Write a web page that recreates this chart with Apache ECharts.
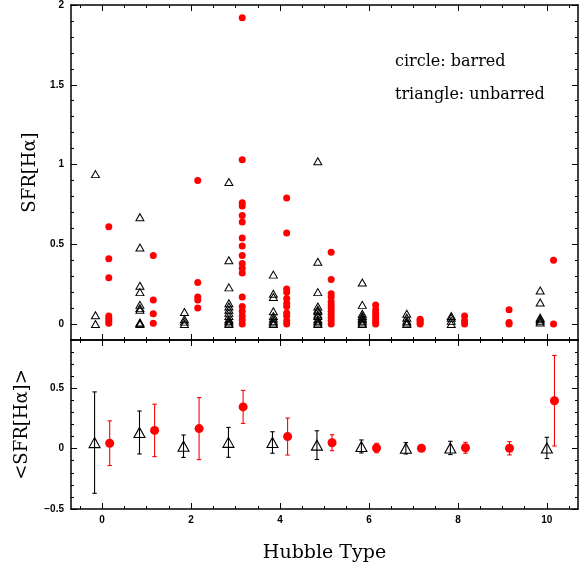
<!DOCTYPE html>
<html><head><meta charset="utf-8">
<script src="https://cdn.jsdelivr.net/npm/echarts@6/dist/echarts.min.js"></script>
<style>html,body{margin:0;padding:0;background:#fff}#c{width:585px;height:572px}</style>
</head><body><div id="c"></div>
<script>
// ---- data ----
const hubbleTypes = [0,1,2,3,4,5,6,7,8,9,10];
const unbarredSFR = [
  [0.94,0.055,0.0],
  [0.67,0.48,0.24,0.2,0.12,0.1,0.09,0.01,0.005,0.0],
  [0.075,0.03,0.015,0.0],
  [0.89,0.40,0.23,0.13,0.11,0.09,0.07,0.05,0.03,0.02,0.01,0.0],
  [0.31,0.19,0.17,0.08,0.05,0.035,0.02,0.01,0.0],
  [1.02,0.39,0.2,0.11,0.09,0.08,0.06,0.05,0.03,0.02,0.01,0.0],
  [0.26,0.12,0.065,0.05,0.04,0.03,0.02,0.01,0.0],
  [0.065,0.04,0.02,0.01,0.0],
  [0.05,0.04,0.02,0.0],
  [],
  [0.21,0.135,0.04,0.03,0.02,0.01]
];
const barredSFR = [
  [0.61,0.41,0.29,0.05,0.035,0.02,0.005],
  [0.43,0.15,0.065,0.005],
  [0.9,0.26,0.17,0.15,0.1],
  [1.92,1.03,0.76,0.74,0.68,0.64,0.54,0.49,0.43,0.38,0.35,0.32,0.17,0.11,0.08,0.05,0.025,0.0],
  [0.79,0.57,0.22,0.2,0.16,0.13,0.11,0.07,0.05,0.02,0.0],
  [0.45,0.28,0.19,0.17,0.14,0.12,0.1,0.08,0.06,0.04,0.02,0.0],
  [0.12,0.09,0.07,0.05,0.03,0.015,0.0],
  [0.03,0.02,0.01,0.0],
  [0.05,0.02,0.0],
  [0.09,0.01,0.0],
  [0.4,0.0]
];
const unbarredMeanX = [-0.17,0.84,1.83,2.84,3.83,4.83,5.83,6.83,7.83,10.0];
const unbarredMean  = [0.05,0.134,0.02,0.052,0.051,0.029,0.018,0.003,0.006,0.006];
const unbarredErr   = [0.42,0.178,0.093,0.124,0.089,0.119,0.054,0.047,0.055,0.088];
const barredMeanX = [0.17,1.18,2.18,3.17,4.17,5.17,6.17,7.18,8.17,9.16,10.17];
const barredMean  = [0.045,0.151,0.166,0.346,0.1,0.049,0.005,0.003,0.007,0.003,0.397];
const barredErr   = [0.185,0.217,0.257,0.137,0.153,0.066,0.039,0.02,0.045,0.055,0.375];

const xMajorTicks = [0,2,4,6,8,10];
const topYMajorTicks = [0,0.5,1,1.5,2];
const bottomYMajorTicks = [-0.5,0,0.5];
const xTitle = 'Hubble Type';
const topYTitle = 'SFR[H\u03b1]';
const bottomYTitle = '<SFR[H\u03b1]>';
const legendLines = ['circle: barred','triangle: unbarred'];

// ---- helpers ----
function steps(a, b, s, exclude) {
  const out = [];
  for (let i = Math.round(a / s); i <= Math.round(b / s); i++) {
    const v = +(i * s).toFixed(3);
    if (!exclude.some(e => Math.abs(e - v) < 1e-6)) out.push(v);
  }
  return out;
}
const xMinor = steps(-0.5, 10.5, 0.5, xMajorTicks);
const topYMinor = steps(-0.1, 2.0, 0.1, topYMajorTicks);
const botYMinor = steps(-0.5, 0.9, 0.1, bottomYMajorTicks);

const lab = {fontFamily:'Liberation Sans', fontWeight:'bold', fontSize:10, color:'#000'};
const fmt = v => (v < 0 ? '\u2212' + Math.abs(v) : String(v));

function xAx(grid, pos, ticks, len, showLine, showLabel, extra) {
  return Object.assign({
    type:'value', gridIndex:grid, position:pos, min:-0.7, max:10.7,
    axisLine:{show:showLine, onZero:false, lineStyle:{color:'#000', width:1.5}},
    axisTick:{show:true, inside:true, length:len, customValues:ticks, lineStyle:{color:'#000', width:1}},
    axisLabel:{show:showLabel, customValues:ticks, margin:6, formatter:fmt, ...lab},
    splitLine:{show:false}
  }, extra || {});
}
function yAx(grid, pos, min, max, ticks, len, showLine, showLabel, extra) {
  return Object.assign({
    type:'value', gridIndex:grid, position:pos, min:min, max:max,
    axisLine:{show:showLine, onZero:false, lineStyle:{color:'#000', width:1.5}},
    axisTick:{show:true, inside:true, length:len, customValues:ticks, lineStyle:{color:'#000', width:1}},
    axisLabel:{show:showLabel, customValues:ticks, margin:7, formatter:fmt, ...lab},
    splitLine:{show:false}
  }, extra || {});
}
const nameStyle = {fontFamily:'DejaVu Serif', fontSize:18, color:'#000'};

const xAxes = [
  xAx(0,'bottom',xMajorTicks,6,true,false),
  xAx(0,'bottom',xMinor,3,false,false),
  xAx(0,'top',xMajorTicks,6,true,false),
  xAx(0,'top',xMinor,3,false,false),
  xAx(1,'bottom',xMajorTicks,6,true,true,{name:xTitle,nameLocation:'middle',nameGap:35,nameTextStyle:{...nameStyle,fontSize:19}}),
  xAx(1,'bottom',xMinor,3,false,false),
  xAx(1,'top',xMajorTicks,6,true,false),
  xAx(1,'top',xMinor,3,false,false)
];
const yAxes = [
  yAx(0,'left',-0.1,2.0,topYMajorTicks,6,true,true,{name:topYTitle,nameLocation:'middle',nameGap:32,nameRotate:90,nameTextStyle:nameStyle}),
  yAx(0,'left',-0.1,2.0,topYMinor,3,false,false),
  yAx(0,'right',-0.1,2.0,topYMajorTicks,6,true,false),
  yAx(0,'right',-0.1,2.0,topYMinor,3,false,false),
  yAx(1,'left',-0.5,0.9,bottomYMajorTicks,6,true,true,{name:bottomYTitle,nameLocation:'middle',nameGap:40,nameRotate:90,nameTextStyle:nameStyle}),
  yAx(1,'left',-0.5,0.9,botYMinor,3,false,false),
  yAx(1,'right',-0.5,0.9,bottomYMajorTicks,6,true,false),
  yAx(1,'right',-0.5,0.9,botYMinor,3,false,false)
];

const dodge = 0.15;
const unbarredPts = [], barredPts = [];
hubbleTypes.forEach((t, i) => {
  unbarredSFR[i].forEach(v => unbarredPts.push([t - dodge, v]));
  barredSFR[i].forEach(v => barredPts.push([t + dodge, v]));
});

function errBars(xs, means, errs, color) {
  return {
    type:'custom', xAxisIndex:4, yAxisIndex:4, silent:true, z:2,
    encode:{x:0, y:[1,2]},
    data: xs.map((x,i) => [x, means[i]-errs[i], means[i]+errs[i]]),
    renderItem(params, api) {
      const x = api.value(0);
      const lo = api.coord([x, api.value(1)]);
      const hi = api.coord([x, api.value(2)]);
      const w = 2.2, st = {stroke:color, lineWidth:1.1};
      return {type:'group', children:[
        {type:'line', shape:{x1:lo[0],y1:lo[1],x2:hi[0],y2:hi[1]}, style:st},
        {type:'line', shape:{x1:lo[0]-w,y1:lo[1],x2:lo[0]+w,y2:lo[1]}, style:st},
        {type:'line', shape:{x1:hi[0]-w,y1:hi[1],x2:hi[0]+w,y2:hi[1]}, style:st}
      ]};
    }
  };
}

const chart = echarts.init(document.getElementById('c'), null, {renderer:'canvas'});
chart.setOption({
  animation:false,
  backgroundColor:'#fff',
  grid:[
    {left:71, right:7, top:3, height:337},
    {left:71, right:7, top:340, height:169}
  ],
  xAxis:xAxes,
  yAxis:yAxes,
  graphic:[
    {type:'text', left:395, top:54, style:{text:legendLines[0], font:'16px "DejaVu Serif"', fill:'#000'}},
    {type:'text', left:395, top:87, style:{text:legendLines[1], font:'16px "DejaVu Serif"', fill:'#000'}}
  ],
  series:[
    {type:'scatter', xAxisIndex:0, yAxisIndex:0, data:unbarredPts, symbol:'triangle', symbolSize:[8,7],
     itemStyle:{color:'rgba(0,0,0,0)', borderColor:'#000', borderWidth:1, opacity:1}, z:3},
    {type:'scatter', xAxisIndex:0, yAxisIndex:0, data:barredPts, symbol:'circle', symbolSize:7,
     itemStyle:{color:'#ff0000', opacity:1}, z:4},
    errBars(unbarredMeanX, unbarredMean, unbarredErr, '#000'),
    errBars(barredMeanX, barredMean, barredErr, '#ff0000'),
    {type:'scatter', xAxisIndex:4, yAxisIndex:4, data:unbarredMeanX.map((x,i)=>[x, unbarredMean[i]]),
     symbol:'triangle', symbolSize:[11,10], itemStyle:{color:'rgba(0,0,0,0)', borderColor:'#000', borderWidth:1.1, opacity:1}, z:5},
    {type:'scatter', xAxisIndex:4, yAxisIndex:4, data:barredMeanX.map((x,i)=>[x, barredMean[i]]),
     symbol:'circle', symbolSize:9, itemStyle:{color:'#ff0000', opacity:1}, z:5}
  ]
});
</script>
</body></html>
